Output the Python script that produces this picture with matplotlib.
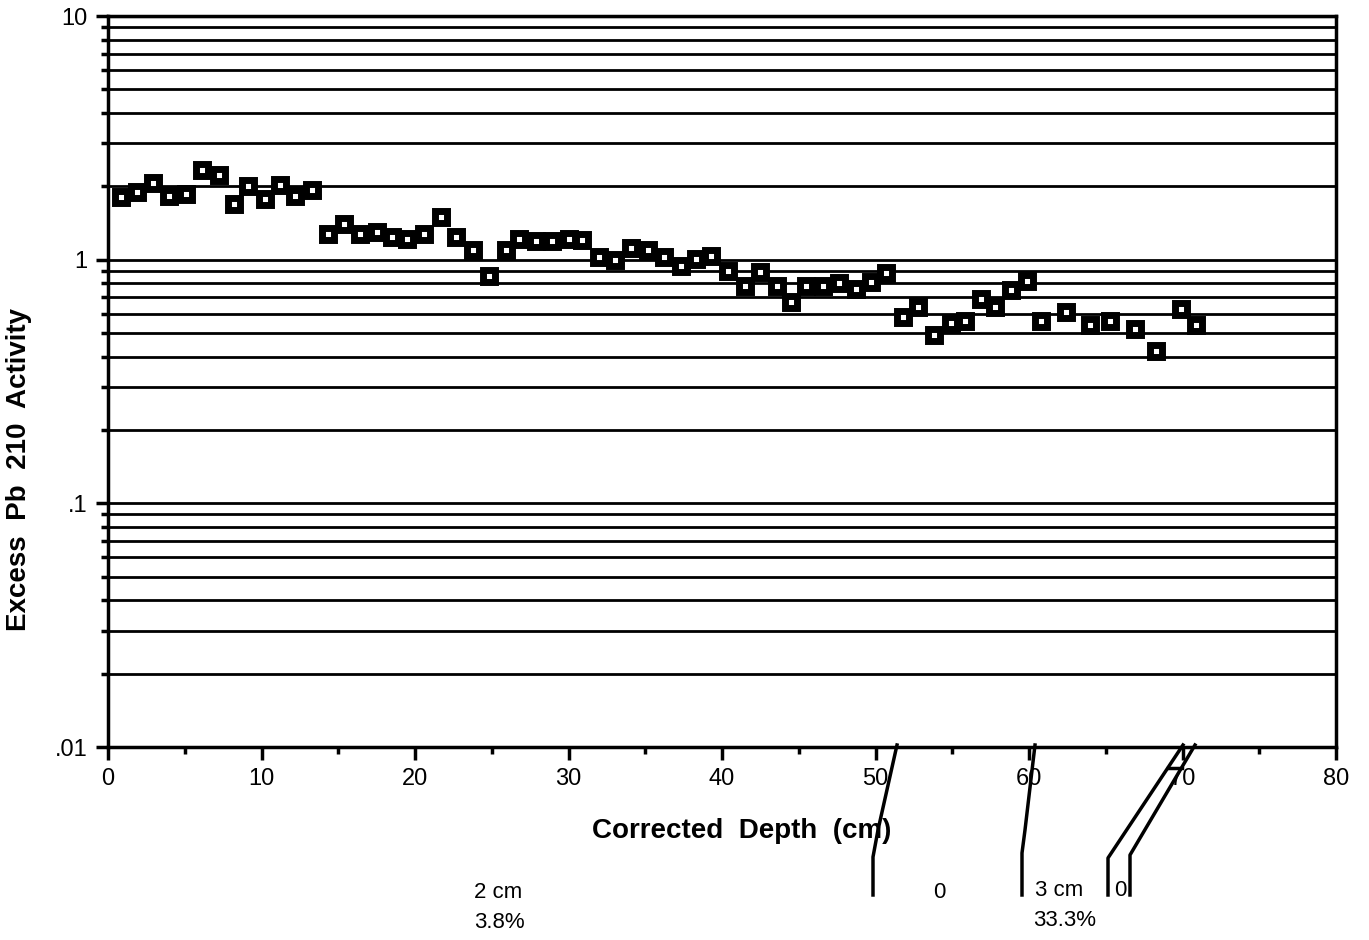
import numpy as np
import matplotlib.pyplot as plt
from matplotlib.lines import Line2D
from matplotlib.ticker import LogLocator, FixedLocator, MultipleLocator

plt.rcParams['font.family'] = ['Liberation Sans', 'DejaVu Sans']

# corrected depth (cm) and excess Pb 210 activity
depth = [0.85, 1.9, 2.9, 4.0, 5.1, 6.1, 7.2, 8.2, 9.1, 10.2, 11.2, 12.2, 13.3,
         14.3, 15.4, 16.4, 17.5, 18.5, 19.5, 20.6, 21.7, 22.7, 23.8, 24.8, 25.9,
         26.8, 27.9, 28.9, 30.0, 30.9, 32.0, 33.0, 34.1, 35.2, 36.2, 37.3, 38.3,
         39.3, 40.4, 41.5, 42.5, 43.6, 44.5, 45.5, 46.6, 47.6, 48.7, 49.7, 50.7,
         51.8, 52.8, 53.8, 54.9, 55.8, 56.9, 57.8, 58.8, 59.9, 60.8, 62.4, 64.0,
         65.3, 66.9, 68.3, 69.9, 70.9]
activity = [1.81, 1.90, 2.07, 1.83, 1.86, 2.34, 2.23, 1.70, 2.01, 1.78, 2.03, 1.83, 1.94,
            1.27, 1.40, 1.27, 1.30, 1.24, 1.21, 1.27, 1.49, 1.24, 1.10, 0.86, 1.10,
            1.22, 1.19, 1.19, 1.22, 1.20, 1.03, 1.00, 1.12, 1.10, 1.03, 0.94, 1.01,
            1.04, 0.90, 0.78, 0.89, 0.78, 0.67, 0.78, 0.78, 0.80, 0.76, 0.81, 0.88,
            0.58, 0.64, 0.49, 0.55, 0.56, 0.69, 0.64, 0.75, 0.82, 0.56, 0.61, 0.54,
            0.56, 0.52, 0.42, 0.63, 0.54]

y_ticks = [0.01, 0.1, 1, 10]
y_labels = ['.01', '.1', '1', '10']
x_ticks = [0, 10, 20, 30, 40, 50, 60, 70, 80]

W, H = 1369, 940
fig = plt.figure(figsize=(W / 100, H / 100), dpi=100)
ax = fig.add_axes([108 / W, 1 - 747 / H, (1336 - 108) / W, (747 - 16) / H])

ax.set_yscale('log')
ax.set_xlim(0, 80)
ax.set_ylim(0.01, 10)

# horizontal lines at every decade and sub-decade value
grid_vals = [m * 10.0 ** e for e in range(-2, 1) for m in range(1, 10)][1:]
for g in grid_vals:
    ax.axhline(g, color='black', lw=2.0, zorder=1)
ax.axhline(10, color='black', lw=3.0, zorder=1)

ax.plot(depth, activity, linestyle='none', marker='s', markersize=8,
        markerfacecolor='white', markeredgecolor='black', markeredgewidth=5,
        zorder=3)

ax.yaxis.set_major_locator(FixedLocator(y_ticks))
ax.set_yticklabels(y_labels)
ax.yaxis.set_minor_locator(LogLocator(base=10, subs=range(2, 10)))
ax.yaxis.set_minor_formatter(plt.NullFormatter())
ax.set_xticks(x_ticks)
ax.xaxis.set_minor_locator(MultipleLocator(5))

ax.tick_params(axis='both', which='major', direction='out', length=9, width=2.5,
               labelsize=17, pad=6)
ax.tick_params(axis='both', which='minor', direction='out', length=5, width=2.5)
for s in ax.spines.values():
    s.set_linewidth(2.5)

ax.set_xlabel('Corrected  Depth  (cm)', fontsize=20, fontweight='bold')
ax.xaxis.set_label_coords(0.516, -0.097)
ax.set_ylabel('Excess  Pb  210  Activity', fontsize=20, fontweight='bold')
ax.yaxis.set_label_coords(-0.062, 0.379)


def fx(px):
    return px / W


def fy(py):
    return 1 - py / H


# stray cut lines from the scan at the bottom
strokes = [
    [(897, 745), (878, 830), (873, 857), (873, 895)],
    [(1035, 745), (1025, 830), (1022, 853), (1022, 895)],
    [(1183, 745), (1108, 858), (1108, 895)],
    [(1195, 745), (1130, 855), (1130, 895)],
    [(1168, 768), (1182, 768)],
]
for st in strokes:
    xs = [fx(p[0]) for p in st]
    ys = [fy(p[1]) for p in st]
    fig.add_artist(Line2D(xs, ys, color='black', lw=2.5, transform=fig.transFigure))

fig.text(fx(474), fy(893), '2 cm', fontsize=16, va='center')
fig.text(fx(474), fy(923), '3.8%', fontsize=16, va='center')
fig.text(fx(933), fy(893), '0', fontsize=16, va='center')
fig.text(fx(1035), fy(890), '3 cm', fontsize=16, va='center')
fig.text(fx(1114), fy(890), '0', fontsize=16, va='center')
fig.text(fx(1033), fy(921), '33.3%', fontsize=16, va='center')

fig.savefig('out.png', dpi=100)
